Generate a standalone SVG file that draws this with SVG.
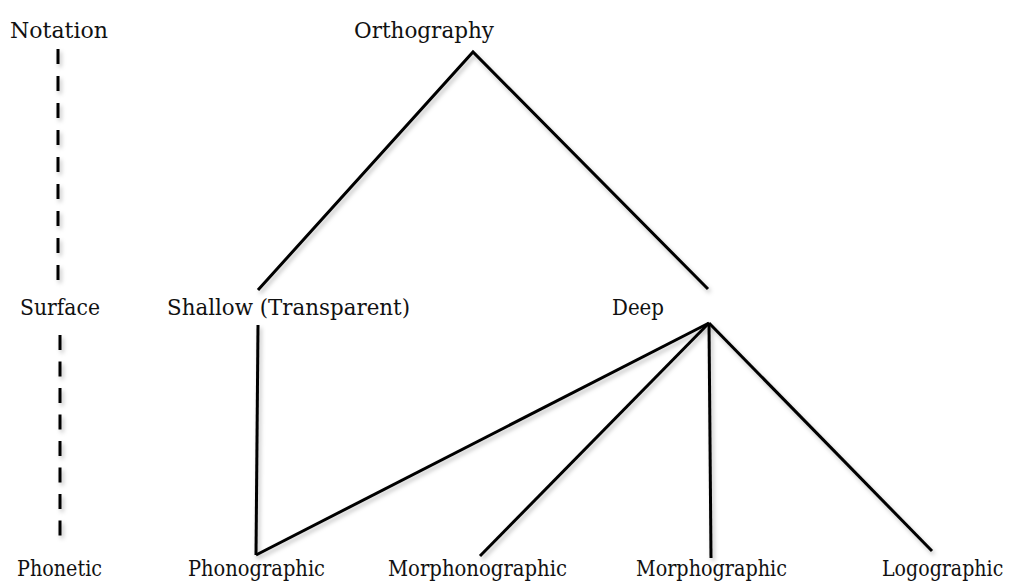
<svg xmlns="http://www.w3.org/2000/svg" width="1010" height="584" viewBox="0 0 1010 584">
<defs>
<filter id="sh" x="-20%" y="-20%" width="140%" height="140%">
<feDropShadow dx="2" dy="3" stdDeviation="2" flood-color="#000" flood-opacity="0.25"/>
</filter>
<style>
.t{font-family:"DejaVu Serif","Liberation Serif",serif;font-size:22px;fill:#111;}
.e{stroke:#000;stroke-width:3;fill:none;stroke-linecap:butt;}
.d{stroke:#000;stroke-width:3;fill:none;}
</style>
</defs>
<rect width="1010" height="584" fill="#fff"/>
<g id="connectors" filter="url(#sh)">
<line class="d" stroke-dasharray="15 12" x1="58" y1="49" x2="58" y2="280"/>
<line class="d" stroke-dasharray="15 11.5" x1="60" y1="335" x2="60" y2="537"/>
<polyline class="e" points="258,290 473,52 708,289"/>
<line class="e" x1="258" y1="325" x2="256" y2="555"/>
<line class="e" x1="709" y1="323" x2="256" y2="555"/>
<line class="e" x1="709" y1="323" x2="480" y2="556"/>
<line class="e" x1="709" y1="323" x2="711" y2="558"/>
<line class="e" x1="709" y1="323" x2="932" y2="551"/>
</g>
<g id="notation"><text class="t" x="10" y="38" textLength="98" lengthAdjust="spacingAndGlyphs">Notation</text></g>
<g id="orthography"><text class="t" x="354" y="38" textLength="140" lengthAdjust="spacingAndGlyphs">Orthography</text></g>
<g id="surface"><text class="t" x="20" y="315" textLength="80" lengthAdjust="spacingAndGlyphs">Surface</text></g>
<g id="shallow"><text class="t" x="167" y="315" textLength="243" lengthAdjust="spacingAndGlyphs">Shallow (Transparent)</text></g>
<g id="deep"><text class="t" x="612" y="315" textLength="52" lengthAdjust="spacingAndGlyphs">Deep</text></g>
<g id="phonetic"><text class="t" x="17" y="576" textLength="85" lengthAdjust="spacingAndGlyphs">Phonetic</text></g>
<g id="phonographic"><text class="t" x="188" y="576" textLength="137" lengthAdjust="spacingAndGlyphs">Phonographic</text></g>
<g id="morphonographic"><text class="t" x="388" y="576" textLength="179" lengthAdjust="spacingAndGlyphs">Morphonographic</text></g>
<g id="morphographic"><text class="t" x="636" y="576" textLength="151" lengthAdjust="spacingAndGlyphs">Morphographic</text></g>
<g id="logographic"><text class="t" style="font-size:19px" transform="translate(882,576) scale(1,1.158)">Logographic</text></g>
</svg>
